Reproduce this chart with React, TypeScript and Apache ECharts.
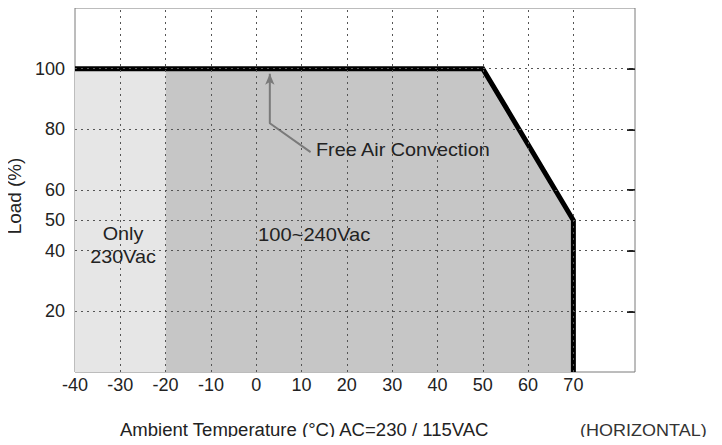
import React, { useEffect, useRef } from "react";
import * as echarts from "echarts";

const xTickLabels = [-40, -30, -20, -10, 0, 10, 20, 30, 40, 50, 60, 70];
const yTickLabels = [20, 40, 50, 60, 80, 100];
const gridX = [-30, -20, -10, 0, 10, 20, 30, 40, 50, 60, 70];
const gridY = [20, 40, 50, 60, 80, 100];
const rightTicks = [20, 40, 60, 80, 100];
const deratingCurve = [[-40, 100], [50, 100], [70, 50], [70, 0]];
const only230Region = [[-40, 100], [-20, 100]];
const fullRangeRegion = [[-20, 100], [50, 100], [70, 50], [70, 0]];
const arrowPath = [[3, 98.3], [3, 82], [12, 72.5]];

const FONT = "'Liberation Sans', Arial, sans-serif";

export default function App() {
  const ref = useRef<HTMLDivElement>(null);
  useEffect(() => {
    if (!ref.current) return;
    const chart = echarts.init(ref.current, undefined, { renderer: "svg" });
    const gridLineStyle = { color: "#555", width: 1, type: [2, 4] as any };
    const txt = (text: string, x: number, y: number, scaleX: number, align = "left", size = 18, fill = "#222") => ({
      type: "text",
      x,
      y,
      scaleX,
      style: { text, font: `${size}px ${FONT}`, fill, align, verticalAlign: "middle", lineHeight: 23 },
      z: 10,
    });
    chart.setOption({
      animation: false,
      grid: {
        left: 75,
        top: 8,
        right: 87,
        bottom: 73,
        show: true,
        borderColor: "#7a7a7a",
        borderWidth: 1,
        backgroundColor: "#fff",
      },
      xAxis: {
        type: "value",
        min: -40,
        max: 83.6,
        interval: 10,
        axisLine: { show: false },
        axisTick: { show: false },
        splitLine: { show: false },
        axisLabel: {
          margin: 4,
          fontSize: 18,
          color: "#222",
          fontFamily: FONT,
          formatter: (v: number) => (xTickLabels.includes(v) ? String(v) : ""),
        },
      },
      yAxis: [
        {
          type: "value",
          min: 0,
          max: 120,
          interval: 10,
          axisLine: { show: false },
          axisTick: { show: false },
          splitLine: { show: false },
          axisLabel: {
            margin: 10,
            fontSize: 18,
            color: "#222",
            fontFamily: FONT,
            formatter: (v: number) => (yTickLabels.includes(v) ? String(v) : ""),
          },
        },
        {
          type: "value",
          position: "right",
          min: 0,
          max: 120,
          interval: 10,
          axisLine: { show: false },
          axisLabel: { show: false },
          splitLine: { show: false },
          axisTick: {
            show: true,
            inside: true,
            length: 8,
            customValues: rightTicks,
            lineStyle: { color: "#222", width: 2 },
          },
        },
      ],
      series: [
        {
          type: "line",
          data: only230Region,
          symbol: "none",
          lineStyle: { width: 0 },
          areaStyle: { color: "#e6e6e6", opacity: 1 },
          z: 1,
          silent: true,
        },
        {
          type: "line",
          data: fullRangeRegion,
          symbol: "none",
          lineStyle: { width: 0 },
          areaStyle: { color: "#c6c6c6", opacity: 1 },
          z: 1,
          silent: true,
        },
        {
          type: "line",
          data: [],
          z: 2,
          silent: true,
          markLine: {
            silent: true,
            symbol: "none",
            label: { show: false },
            lineStyle: gridLineStyle,
            data: [
              ...gridX.map((x) => ({ xAxis: x })),
              ...gridY.map((y) => ({ yAxis: y })),
            ],
          },
        },
        {
          type: "line",
          data: arrowPath.map((p, i) =>
            i === 0
              ? { value: p, symbol: "arrow", symbolSize: [7, 11] }
              : { value: p, symbol: "none" }
          ),
          showSymbol: true,
          itemStyle: { color: "#7a7a7a" },
          lineStyle: { color: "#7a7a7a", width: 2 },
          z: 3,
          silent: true,
        },
        {
          type: "line",
          data: deratingCurve,
          symbol: "none",
          lineStyle: { color: "#000", width: 5, join: "miter" },
          z: 4,
          silent: true,
        },
      ],
      graphic: [
        txt("Free Air Convection", 316, 150, 1.1),
        txt("100~240Vac", 258, 235, 1.12),
        txt("Only\n230Vac", 123, 245, 1.1, "center"),
        {
          type: "text",
          x: 15,
          y: 196,
          rotation: Math.PI / 2,
          scaleX: 1.05,
          style: {
            text: "Load (%)",
            font: `18px ${FONT}`,
            fill: "#222",
            align: "center",
            verticalAlign: "middle",
          },
          z: 10,
        },
        txt("Ambient Temperature (°C) AC=230 / 115VAC", 120, 430, 1.03),
        txt("(HORIZONTAL)", 580, 430, 1.06, "left", 17, "#333"),
      ],
    });
    return () => chart.dispose();
  }, []);
  return <div ref={ref} style={{ width: 722, height: 445, margin: -8 }} />;
}
